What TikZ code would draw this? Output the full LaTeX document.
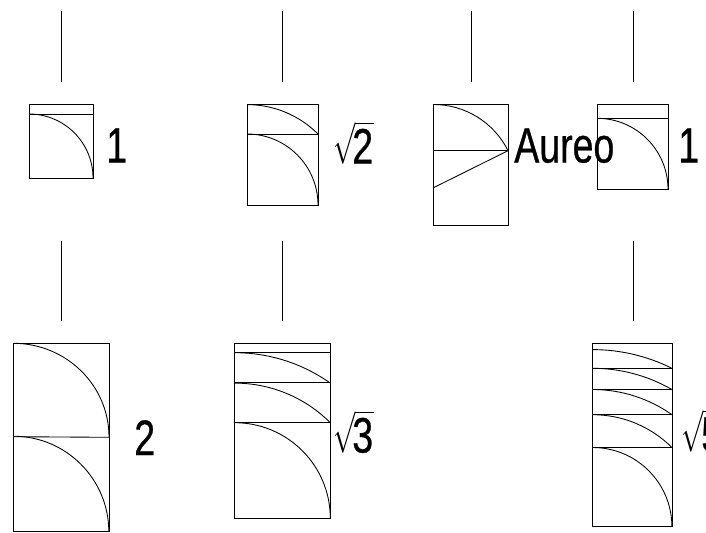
\documentclass[tikz,border=0pt]{standalone}
\usepackage{fontspec}
\setmainfont{Liberation Sans}
\newfontfamily\tagfont{Liberation Sans}[FakeBold=0.7]
\begin{document}
\begin{tikzpicture}[
  x=0.75pt, y=-0.75pt,
  frame/.style={draw, line width=0.65pt},
  curve/.style={line width=0.65pt},
  stem/.style={line width=0.5pt},
  tag/.style={font=\Huge\tagfont, xscale=1.13, yscale=1.5, inner sep=0pt, anchor=base west},
  rootsign/.style={font=\Huge, xscale=0.8, yscale=1.25, inner sep=0pt, anchor=south west}
]
\useasboundingbox (0,0) rectangle (706,532);

% vertical stems
\foreach \x in {61,282,471,633}
  \draw[stem] (\x,11) -- (\x,82);
\foreach \x in {61,282,633}
  \draw[stem] (\x,241) -- (\x,321);

% outer rectangles
\foreach \l/\t/\r/\b in {29/104/93/178, 247/104/318/205, 433.5/104/508/225, 597/104/668.3/189.3,
    13.3/343.3/109/531.7, 234.7/343.3/330.3/518.3, 592.7/343.3/672/526.7}
  \draw[frame] (\l,\t) rectangle (\r,\b);

% horizontal divisions
\foreach \l/\r/\y in {29/93/114.5, 247/318/134, 433.5/508/150.7, 597/668.3/118.3,
    234.7/330.3/352.7, 234.7/330.3/382.7, 234.7/330.3/422.7,
    592.7/672/368, 592.7/672/389, 592.7/672/414.3, 592.7/672/447.7}
  \draw[curve] (\l,\y) -- (\r,\y);
\draw[curve] (13.3,436.7) -- (109,437.3);

% arcs: centre x, centre y, radius, end angle
\foreach \x/\y/\r/\a in {29/178/64/0, 247/205/71/0, 247/205/100.4/45,
    433.5/187.7/83.2/26.4, 597/189.3/71/0, 13.3/531.7/95.5/0,
    234.7/518.3/95.6/0, 234.7/518.3/135.2/45, 234.7/518.3/165.6/54.8,
    592.7/526.7/79.2/0, 592.7/526.7/112/45, 592.7/526.7/137.2/54.7,
    592.7/526.7/158.4/60, 592.7/526.7/177.1/63.4}
  \draw[curve] (\x,\y-\r) arc[start angle=-90, end angle=-\a, radius=\r];
\draw[curve] (13.3,343.3) arc[start angle=-90, end angle=0, x radius=95.7, y radius=93.7];

% golden section diagonal
\draw[curve] (433.5,187.7) -- (508,150.7);

% labels
\node[tag] (lab1) at (106,162.5) {1};
\node[tag] (labau) at (514,162.5) {Aureo};
\node[tag] (lab1b) at (678,162.5) {1};
\node[tag] (lab2) at (134,455) {2};
\node[rootsign] (rad2) at (333,164.5) {$\sqrt{\hspace{17.2pt}\vphantom{\mbox{2}}}$};
\node[tag] (labr2) at (352,163.5) {2};
\node[rootsign] (rad3) at (333,453.5) {$\sqrt{\hspace{17.2pt}\vphantom{\mbox{3}}}$};
\node[tag] (labr3) at (352,452.5) {3};
\node[rootsign] (rad5) at (681,452.5) {$\sqrt{\hspace{17.2pt}\vphantom{\mbox{5}}}$};
\node[tag] (labr5) at (701,451.5) {5};
\end{tikzpicture}
\end{document}
